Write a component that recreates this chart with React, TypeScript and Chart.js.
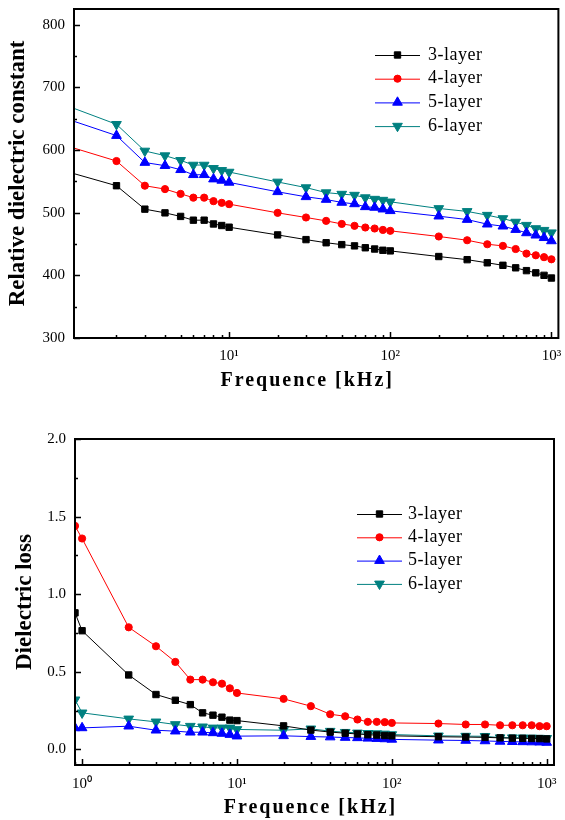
import React, { useEffect, useRef } from 'react';
import { Chart, registerables } from 'chart.js';
import { drawPoint } from 'chart.js/helpers';

Chart.register(...registerables);

// ---------- data ----------
const SERIES_LABELS = ['3-layer', '4-layer', '5-layer', '6-layer'];
const SERIES_COLORS = ['#000000', '#ff0000', '#0000ff', '#008080'];
const SERIES_STYLES = ['rect', 'circle', 'triangle', 'triangle'];
const SERIES_ROTATION = [0, 0, 0, 180];
const SERIES_RADIUS = [4.5, 3.6, 5.6, 5.6];

// top panel: relative dielectric constant vs frequency (kHz)
const FREQ_TOP = [1, 2, 3, 4, 5, 6, 7, 8, 9, 10, 20, 30, 40, 50, 60, 70, 80, 90, 100, 200, 300, 400, 500, 600, 700, 800, 900, 1000];
const EPS_3 = [565, 543, 505.6, 499.7, 494, 488, 488, 482, 479.5, 476.8, 464.5, 457, 452, 449, 447, 444, 442, 440, 439, 430, 425, 420, 416, 412, 407.5, 404, 400, 395.7];
const EPS_4 = [606, 582.4, 543, 537.6, 530, 524, 524, 518.4, 515.7, 513.6, 499.7, 492.3, 486.9, 482, 479, 476.3, 474.7, 472.5, 471, 462, 456, 449.6, 447, 442, 434.7, 432, 429, 425.6];
const EPS_5 = [649, 623, 580, 575, 568.5, 560.5, 560.5, 553.6, 551.5, 548.3, 533.3, 525.3, 521, 516.3, 514, 509.3, 508.3, 505.6, 503, 494.4, 489, 481.6, 478.4, 473, 467.7, 464, 460, 454.9];
const EPS_6 = [670, 641, 598.4, 591, 583.5, 576, 576, 570.7, 567.5, 564.8, 549, 540, 532, 529.6, 528, 524, 521.6, 520, 517.3, 506.7, 502, 496, 490.7, 485, 480, 474.7, 472, 468];
const Y_MAJOR_TOP = [300, 400, 500, 600, 700, 800];
const Y_MINOR_TOP = [350, 450, 550, 650, 750];

// bottom panel: dielectric loss vs frequency (kHz)
const FREQ_BOT = [0.9, 1, 2, 3, 4, 5, 6, 7, 8, 9, 10, 20, 30, 40, 50, 60, 70, 80, 90, 100, 200, 300, 400, 500, 600, 700, 800, 900, 1000];
const LOSS_3 = [0.88, 0.765, 0.48, 0.354, 0.317, 0.289, 0.236, 0.221, 0.208, 0.189, 0.186, 0.152, 0.125, 0.112, 0.105, 0.1, 0.095, 0.093, 0.09, 0.088, 0.082, 0.08, 0.078, 0.075, 0.073, 0.072, 0.071, 0.07, 0.068];
const LOSS_4 = [1.44, 1.359, 0.787, 0.665, 0.564, 0.45, 0.45, 0.433, 0.424, 0.394, 0.364, 0.326, 0.279, 0.227, 0.214, 0.193, 0.178, 0.178, 0.176, 0.171, 0.167, 0.161, 0.161, 0.156, 0.156, 0.156, 0.156, 0.15, 0.15];
const LOSS_5 = [0.139, 0.139, 0.15, 0.124, 0.118, 0.111, 0.111, 0.107, 0.103, 0.096, 0.086, 0.088, 0.083, 0.08, 0.077, 0.075, 0.072, 0.07, 0.068, 0.065, 0.06, 0.058, 0.055, 0.052, 0.05, 0.049, 0.048, 0.047, 0.045];
const LOSS_6 = [0.32, 0.236, 0.197, 0.178, 0.161, 0.15, 0.146, 0.139, 0.139, 0.139, 0.129, 0.124, 0.133, 0.118, 0.111, 0.107, 0.104, 0.102, 0.1, 0.096, 0.088, 0.086, 0.085, 0.076, 0.076, 0.075, 0.074, 0.073, 0.072];
const Y_MAJOR_BOT = [0, 0.5, 1.0, 1.5, 2.0];
const Y_MINOR_BOT = [0.25, 0.75, 1.25, 1.75];

const X_MAJOR_TOP = [10, 100, 1000];
const X_MAJOR_BOT = [1, 10, 100, 1000];
const X_LABELS: Record<string, string> = { '1': '10\u2070', '10': '10\u00b9', '100': '10\u00b2', '1000': '10\u00b3' };

const X_TITLE = 'Frequence [kHz]';
const Y_TITLE_TOP = 'Relative dielectric constant';
const Y_TITLE_BOT = 'Dielectric loss';

const FONT = '"Liberation Serif", "Times New Roman", serif';

// ---------- plugin: inward ticks, frame, x title, legend ----------
const framePlugin = {
  id: 'frame',
  afterDraw(chart: any, _args: any, opts: any) {
    const { ctx, chartArea: a, scales } = chart;
    const xs = scales.x;
    const ys = scales.y;
    ctx.save();
    ctx.strokeStyle = '#000';
    ctx.lineWidth = 1.5;
    ctx.beginPath();
    for (let e = -1; e <= 3; e++) {
      for (let k = 1; k <= 9; k++) {
        const v = k * Math.pow(10, e);
        if (v < xs.min * 0.999 || v > xs.max) continue;
        const px = Math.round(xs.getPixelForValue(v)) + 0.5;
        const len = k === 1 ? 6 : 3;
        ctx.moveTo(px, a.bottom);
        ctx.lineTo(px, a.bottom - len);
      }
    }
    opts.yMajor.forEach((v: number) => {
      const py = Math.round(ys.getPixelForValue(v)) + 0.5;
      ctx.moveTo(a.left, py);
      ctx.lineTo(a.left + 6, py);
    });
    opts.yMinor.forEach((v: number) => {
      const py = Math.round(ys.getPixelForValue(v)) + 0.5;
      ctx.moveTo(a.left, py);
      ctx.lineTo(a.left + 3, py);
    });
    ctx.stroke();

    // frame
    ctx.lineWidth = 2;
    ctx.strokeRect(a.left, a.top, a.right - a.left, a.bottom - a.top);

    // x title with letter spacing
    ctx.fillStyle = '#000';
    ctx.font = `bold 20px ${FONT}`;
    (ctx as any).letterSpacing = '2px';
    ctx.textAlign = 'center';
    ctx.textBaseline = 'middle';
    ctx.fillText(opts.xTitle, (a.left + a.right) / 2 + opts.xTitleDx, a.bottom + opts.xTitleDy);
    (ctx as any).letterSpacing = '0px';

    // legend
    const L = opts.legend;
    ctx.font = `${L.size}px ${FONT}`;
    ctx.textAlign = 'left';
    chart.data.datasets.forEach((ds: any, i: number) => {
      const y = a.top + L.y0 + i * L.dy;
      ctx.strokeStyle = ds.borderColor;
      ctx.lineWidth = 1;
      ctx.beginPath();
      ctx.moveTo(a.left + L.x0, y + 0.5);
      ctx.lineTo(a.left + L.x1, y + 0.5);
      ctx.stroke();
      ctx.fillStyle = ds.backgroundColor;
      drawPoint(ctx, {
        pointStyle: ds.pointStyle,
        rotation: ds.pointRotation,
        radius: ds.pointRadius,
        borderWidth: 1,
      } as any, a.left + (L.x0 + L.x1) / 2, y);
      ctx.fillStyle = '#000';
      (ctx as any).letterSpacing = L.spacing;
      ctx.fillText(ds.label, a.left + L.tx, y);
      (ctx as any).letterSpacing = '0px';
    });
    ctx.restore();
  },
};

function makeConfig(p: any) {
  const datasets = p.series.map((vals: number[], i: number) => ({
    label: SERIES_LABELS[i],
    data: p.freq.map((f: number, j: number) => ({ x: f, y: vals[j] })),
    borderColor: SERIES_COLORS[i],
    backgroundColor: SERIES_COLORS[i],
    pointBackgroundColor: SERIES_COLORS[i],
    pointBorderColor: SERIES_COLORS[i],
    pointStyle: SERIES_STYLES[i],
    pointRotation: SERIES_ROTATION[i],
    pointRadius: SERIES_RADIUS[i],
    pointBorderWidth: 1,
    borderWidth: 1,
    tension: 0,
    clip: 0,
  }));
  return {
    type: 'line',
    data: { datasets },
    plugins: [framePlugin],
    options: {
      responsive: false,
      animation: false,
      events: [],
      layout: { padding: p.padding },
      plugins: {
        legend: { display: false },
        tooltip: { enabled: false },
        frame: {
          yMajor: p.yMajor,
          yMinor: p.yMinor,
          xTitle: X_TITLE,
          xTitleDx: p.xTitleDx,
          xTitleDy: p.xTitleDy,
          legend: p.legend,
        },
      },
      scales: {
        x: {
          type: 'logarithmic',
          min: p.xMin,
          max: p.xMax,
          grid: { display: false, drawTicks: false },
          border: { display: false },
          ticks: {
            autoSkip: false,
            maxRotation: 0,
            padding: p.xLabelPad,
            color: '#000',
            font: { family: FONT, size: 15 },
            callback: (v: number) => X_LABELS[String(v)] ?? '',
          },
          afterBuildTicks: (s: any) => {
            s.ticks = p.xMajor.map((v: number) => ({ value: v }));
          },
          afterFit: (s: any) => {
            s.height = p.xHeight;
            s.paddingLeft = 0; s.paddingRight = 0; s.paddingTop = 0; s.paddingBottom = 0;
          },
        },
        y: {
          type: 'linear',
          min: p.yMin,
          max: p.yMax,
          grid: { display: false, drawTicks: false },
          border: { display: false },
          ticks: {
            padding: 9,
            color: '#000',
            font: { family: FONT, size: 15 },
            callback: (v: number) => v.toFixed(p.yDecimals),
          },
          afterBuildTicks: (s: any) => {
            s.ticks = p.yMajor.map((v: number) => ({ value: v }));
          },
          afterFit: (s: any) => {
            s.width = p.yWidth;
            s.paddingLeft = 0; s.paddingRight = 0; s.paddingTop = 0; s.paddingBottom = 0;
          },
          title: {
            display: true,
            text: p.yTitle,
            color: '#000',
            font: { family: FONT, size: 23, weight: 'bold', lineHeight: 1 },
            padding: { top: p.yTitlePad, bottom: 0 },
          },
        },
      },
    },
  };
}

function Panel(p: any) {
  const ref = useRef<HTMLCanvasElement | null>(null);
  useEffect(() => {
    if (!ref.current) return;
    const chart = new Chart(ref.current, makeConfig(p) as any);
    return () => chart.destroy();
  }, []);
  return (
    <canvas
      ref={ref}
      width={565}
      height={410}
      style={{ display: 'block', width: 565, height: 410 }}
    />
  );
}

export default function App() {
  return (
    <div style={{ position: 'absolute', left: 0, top: 0, width: 565, height: 820, background: '#fff' }}>
      <Panel
        freq={FREQ_TOP}
        series={[EPS_3, EPS_4, EPS_5, EPS_6]}
        xMin={1.09}
        xMax={1105}
        xMajor={X_MAJOR_TOP}
        yMin={300}
        yMax={825}
        yMajor={Y_MAJOR_TOP}
        yMinor={Y_MINOR_TOP}
        yDecimals={0}
        yTitle={Y_TITLE_TOP}
        yTitlePad={7}
        yWidth={74}
        xHeight={72}
        xLabelPad={9}
        padding={{ left: 0, top: 9, right: 2, bottom: 0 }}
        xTitleDx={-9}
        xTitleDy={43}
        legend={{ x0: 301, x1: 346, tx: 354, y0: 46, dy: 23.7, size: 18, spacing: '0.5px' }}
      />
      <Panel
        freq={FREQ_BOT}
        series={[LOSS_3, LOSS_4, LOSS_5, LOSS_6]}
        xMin={0.9}
        xMax={1115}
        xMajor={X_MAJOR_BOT}
        yMin={-0.1}
        yMax={2.0}
        yMajor={Y_MAJOR_BOT}
        yMinor={Y_MINOR_BOT}
        yDecimals={1}
        yTitle={Y_TITLE_BOT}
        yTitlePad={14}
        yWidth={75}
        xHeight={55}
        xLabelPad={10}
        padding={{ left: 0, top: 29, right: 11, bottom: 0 }}
        xTitleDx={-4}
        xTitleDy={43}
        legend={{ x0: 282, x1: 327, tx: 333, y0: 75, dy: 23.3, size: 18, spacing: '0.5px' }}
      />
    </div>
  );
}
